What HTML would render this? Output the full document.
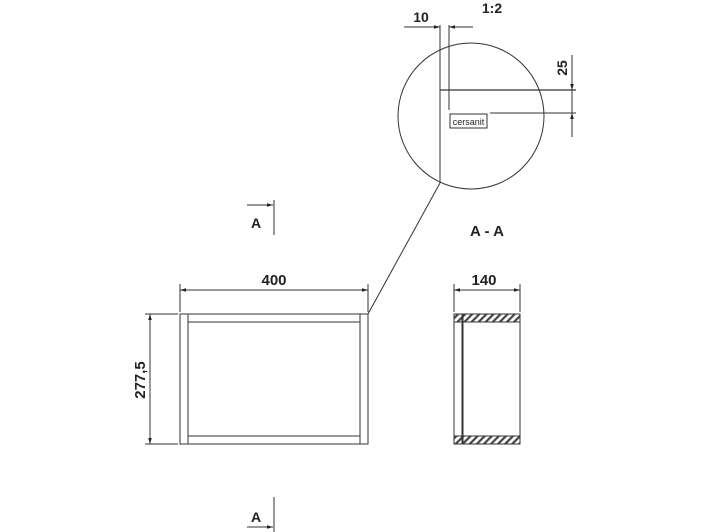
<!DOCTYPE html>
<html><head><style>
html,body{margin:0;padding:0;background:#fff;}
svg{display:block;}
text{font-family:"Liberation Sans",sans-serif;fill:#222;}
</style></head><body>
<svg width="709" height="532" viewBox="0 0 709 532" xmlns="http://www.w3.org/2000/svg">
<defs>
<pattern id="h" width="5" height="5" patternUnits="userSpaceOnUse" patternTransform="rotate(45)">
<rect width="5" height="5" fill="#fff"/>
<rect width="2.2" height="5" fill="#444"/>
</pattern>
<marker id="a" viewBox="0 0 10 10" refX="10" refY="5" markerWidth="6" markerHeight="6" orient="auto-start-reverse"><path d="M0,2 L10,5 L0,8z" fill="#222"/></marker>
</defs>
<g stroke="#333" stroke-width="1" fill="none">
<!-- detail circle -->
<circle cx="471" cy="116" r="73"/>
<line x1="440" y1="25" x2="440" y2="183"/>
<line x1="440" y1="183" x2="368" y2="314"/>
<line x1="449" y1="25" x2="449" y2="110"/>
<line x1="440" y1="90" x2="576" y2="90" stroke-width="1.3"/>
<line x1="490" y1="113" x2="576" y2="113"/>
<line x1="404" y1="27" x2="440" y2="27" marker-end="url(#a)"/>
<line x1="473" y1="27" x2="449" y2="27" marker-end="url(#a)"/>
<line x1="572" y1="55" x2="572" y2="90" marker-end="url(#a)"/>
<line x1="572" y1="137" x2="572" y2="113" marker-end="url(#a)"/>
<line x1="572" y1="90" x2="572" y2="113"/>
<rect x="450" y="114" width="37" height="14"/>
<!-- A markers -->
<line x1="274" y1="200" x2="274" y2="235"/>
<line x1="247" y1="205" x2="273" y2="205" marker-end="url(#a)"/>
<line x1="274" y1="497" x2="274" y2="532"/>
<line x1="247" y1="527" x2="273" y2="527" marker-end="url(#a)"/>
<!-- front view -->
<rect x="180" y="314" width="188" height="130"/>
<line x1="188" y1="314" x2="188" y2="444"/>
<line x1="360" y1="314" x2="360" y2="444"/>
<line x1="188" y1="322" x2="360" y2="322"/>
<line x1="188" y1="436" x2="360" y2="436"/>
<line x1="180" y1="284" x2="180" y2="312"/>
<line x1="368" y1="284" x2="368" y2="312"/>
<line x1="180" y1="290" x2="368" y2="290" marker-start="url(#a)" marker-end="url(#a)"/>
<line x1="145" y1="314" x2="178" y2="314"/>
<line x1="145" y1="444" x2="178" y2="444"/>
<line x1="150" y1="314" x2="150" y2="444" marker-start="url(#a)" marker-end="url(#a)"/>
<!-- side view -->
<rect x="454" y="314" width="66" height="8" fill="url(#h)"/>
<rect x="454" y="436" width="66" height="8" fill="url(#h)"/>
<rect x="454" y="314" width="66" height="130"/>
<line x1="462.5" y1="314" x2="462.5" y2="444" stroke-width="2"/>
<line x1="454" y1="284" x2="454" y2="312"/>
<line x1="520" y1="284" x2="520" y2="312"/>
<line x1="454" y1="290" x2="520" y2="290" marker-start="url(#a)" marker-end="url(#a)"/>
</g>
<text x="421" y="22" font-size="14" font-weight="bold" text-anchor="middle">10</text>
<text x="492" y="13" font-size="14" font-weight="bold" text-anchor="middle">1:2</text>
<text transform="translate(567,68) rotate(-90)" font-size="14" font-weight="bold" text-anchor="middle">25</text>
<text x="468.5" y="125" font-size="9" text-anchor="middle" fill="#444">cersanit</text>
<text x="256" y="228" font-size="14" font-weight="bold" text-anchor="middle">A</text>
<text x="256" y="522" font-size="14" font-weight="bold" text-anchor="middle">A</text>
<text x="487" y="236" font-size="15" font-weight="bold" text-anchor="middle">A - A</text>
<text x="274" y="285" font-size="15" font-weight="bold" text-anchor="middle">400</text>
<text x="484" y="285" font-size="15" font-weight="bold" text-anchor="middle">140</text>
<text transform="translate(145,380) rotate(-90)" font-size="15" font-weight="bold" text-anchor="middle">277,5</text>
</svg>
</body></html>
